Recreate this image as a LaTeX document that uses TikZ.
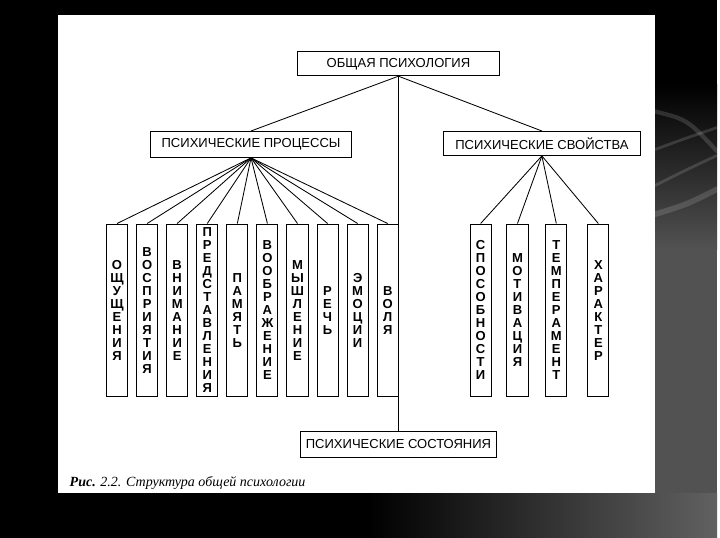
\documentclass[tikz,border=0pt]{standalone}
\usepackage{fontspec}
\setmainfont{Liberation Sans}
\newfontfamily\capfont{Liberation Serif}
\usetikzlibrary{positioning}

\begin{document}
\begin{tikzpicture}[
    x=0.025cm,
    y=-0.025cm,
    box/.style={
        rectangle,
        draw=black,
        line width=0.7pt,
        minimum width=5cm,
        minimum height=0.62cm,
        inner sep=0pt,
        font=\fontsize{9.3}{10}\selectfont
    },
    column/.style={
        rectangle,
        draw=black,
        line width=0.7pt,
        minimum width=0.53cm,
        minimum height=4.33cm,
        inner sep=0pt,
        align=center,
        font=\fontsize{9.3}{9.3}\selectfont\bfseries
    },
    link/.style={
        line width=0.6pt
    },
    streak/.style={
        white,
        line cap=round,
        opacity=0.14
    }
]

    % -- Slide background --
    \fill[black] (0,0) rectangle (720,540);
    \shade[top color=black, bottom color=black!68] (658,85) rectangle (720,250);
    \fill[black!68] (658,249) rectangle (720,540);
    \shade[left color=black, right color=black!62] (370,495) rectangle (720,540);
    \draw[streak, line width=3pt] (658,112) .. controls (690,120) .. (720,152);
    \draw[streak, line width=2pt] (658,186) .. controls (690,170) .. (720,156);
    \draw[streak, line width=2pt] (658,150) .. controls (685,140) .. (720,128);
    \draw[streak, line width=4pt] (658,215) .. controls (690,205) .. (720,190);
    \fill[white] (58,15) rectangle (658,495);

    % -- Main boxes --
    \node[box, minimum width=5.05cm, minimum height=0.6cm] (obsh) at (400,64) {ОБЩАЯ ПСИХОЛОГИЯ};
    \node[box, minimum width=5.03cm, minimum height=0.65cm] (proc) at (252,145) {ПСИХИЧЕСКИЕ ПРОЦЕССЫ};
    \node[box, minimum width=4.95cm, minimum height=0.6cm] (svoi) at (544,144) {ПСИХИЧЕСКИЕ СВОЙСТВА};
    \node[box, minimum width=4.9cm, minimum height=0.65cm] (sost) at (400,446) {ПСИХИЧЕСКИЕ СОСТОЯНИЯ};

    % -- Processes --
    \node[column] (p1) at (117.5,311.5) {О\\Щ\\У\\Щ\\Е\\Н\\И\\Я};
    \node[column, right=0.2cm of p1] (p2) {В\\О\\С\\П\\Р\\И\\Я\\Т\\И\\Я};
    \node[column, right=0.2cm of p2] (p3) {В\\Н\\И\\М\\А\\Н\\И\\Е};
    \node[column, right=0.2cm of p3] (p4) {П\\Р\\Е\\Д\\С\\Т\\А\\В\\Л\\Е\\Н\\И\\Я};
    \node[column, right=0.2cm of p4] (p5) {П\\А\\М\\Я\\Т\\Ь};
    \node[column, right=0.2cm of p5] (p6) {В\\О\\О\\Б\\Р\\А\\Ж\\Е\\Н\\И\\Е};
    \node[column, right=0.2cm of p6] (p7) {М\\Ы\\Ш\\Л\\Е\\Н\\И\\Е};
    \node[column, right=0.2cm of p7] (p8) {Р\\Е\\Ч\\Ь};
    \node[column, right=0.2cm of p8] (p9) {Э\\М\\О\\Ц\\И\\И};
    \node[column, right=0.2cm of p9] (p10) {В\\О\\Л\\Я};

    % -- Properties --
    \node[column] (s1) at (482.5,311.5) {С\\П\\О\\С\\О\\Б\\Н\\О\\С\\Т\\И};
    \node[column, right=0.37cm of s1] (s2) {М\\О\\Т\\И\\В\\А\\Ц\\И\\Я};
    \node[column, right=0.42cm of s2] (s3) {Т\\Е\\М\\П\\Е\\Р\\А\\М\\Е\\Н\\Т};
    \node[column, right=0.5cm of s3] (s4) {Х\\А\\Р\\А\\К\\Т\\Е\\Р};

    % Links from the top
    \draw[link] (obsh.south) -- (proc.north);
    \draw[link] (obsh.south) -- (svoi.north);
    \draw[link] (obsh.south) -- (sost.north);

    % Fans
    \foreach \i in {1,...,10}
        \draw[link] (proc.south) -- (p\i.north);
    \foreach \i in {1,...,4}
        \draw[link] (svoi.south) -- (s\i.north);

    % Caption
    \node[anchor=base west, font=\capfont\fontsize{10}{12}\selectfont\itshape] (caption) at (65,488) {\textbf{Рис.} 2.2. Структура общей психологии};

\end{tikzpicture}
\end{document}
